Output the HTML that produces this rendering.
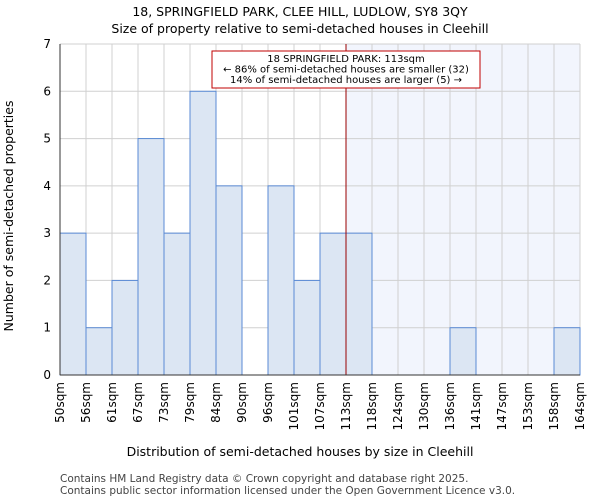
<!DOCTYPE html>
<html><head><meta charset="utf-8"><style>
body{margin:0;background:#fff;font-family:"DejaVu Sans","Liberation Sans",sans-serif}
svg text{font-family:"DejaVu Sans","Liberation Sans",sans-serif}
</style></head><body>
<svg id="c" width="600" height="500" viewBox="0 0 600 500">
<text x="300" y="16" text-anchor="middle" font-size="12.5">18, SPRINGFIELD PARK, CLEE HILL, LUDLOW, SY8 3QY</text>
<text x="300" y="33" text-anchor="middle" font-size="12.5">Size of property relative to semi-detached houses in Cleehill</text>
<text x="300" y="456" text-anchor="middle" font-size="12.5">Distribution of semi-detached houses by size in Cleehill</text>
<text transform="translate(13,216) rotate(-90)" text-anchor="middle" font-size="12.5">Number of semi-detached properties</text>
<text x="60" y="482" font-size="10.5" fill="#444">Contains HM Land Registry data © Crown copyright and database right 2025.</text>
<text x="60" y="494" font-size="10.5" fill="#444">Contains public sector information licensed under the Open Government Licence v3.0.</text>
<g id="plot"></g>
</svg>
<script>
const categories=["50sqm","56sqm","61sqm","67sqm","73sqm","79sqm","84sqm","90sqm","96sqm","101sqm","107sqm","113sqm","118sqm","124sqm","130sqm","136sqm","141sqm","147sqm","153sqm","158sqm","164sqm"];
const counts=[3,1,2,5,3,6,4,0,4,2,3,3,0,0,0,1,0,0,0,1];
const yTicks=[0,1,2,3,4,5,6,7];
const markerIndex=11;
const ns="http://www.w3.org/2000/svg";
const g=document.getElementById("plot");
const L=60,R=580,T=44,B=375,yMax=7;
const bw=(R-L)/counts.length;
const xs=i=>L+i*bw;
const ys=v=>B-(v/yMax)*(B-T);
function mk(t,a){const e=document.createElementNS(ns,t);for(const k in a)e.setAttribute(k,a[k]);g.appendChild(e);return e;}
let e=mk("rect",{x:xs(markerIndex),y:T,width:R-xs(markerIndex),height:B-T,fill:"#f2f5fd"});


for(let i=0;i<=counts.length;i++){e=mk("line",{x1:xs(i),x2:xs(i),y1:T,y2:B,stroke:"#d0d0d0","stroke-width":1});

}
yTicks.forEach(v=>{e=mk("line",{x1:L,x2:R,y1:ys(v),y2:ys(v),stroke:"#d0d0d0","stroke-width":1});


const t=mk("text",{x:L-9,y:ys(v)+4,"text-anchor":"end","font-size":12});t.textContent=v;

});
counts.forEach((c,i)=>{if(c<=0)return;const r=mk("rect",{x:xs(i),y:ys(c),width:bw,height:B-ys(c),fill:"#dce6f3",stroke:"#5a8ad4","stroke-width":1});

});
categories.forEach((c,i)=>{const x=xs(i)+4;const t=mk("text",{transform:`translate(${x},${B+7}) rotate(-90)`,"text-anchor":"end","font-size":12});t.textContent=c;

});
e=mk("line",{x1:xs(markerIndex),x2:xs(markerIndex),y1:T,y2:B,stroke:"#990000","stroke-width":1});


e=mk("rect",{x:212,y:51,width:268,height:37,fill:"#fff",stroke:"#c00000","stroke-width":1});


["18 SPRINGFIELD PARK: 113sqm","← 86% of semi-detached houses are smaller (32)","14% of semi-detached houses are larger (5) →"].forEach((s,k)=>{const t=mk("text",{x:346,y:62+k*10.5,"text-anchor":"middle","font-size":10});t.textContent=s;

});
e=mk("line",{x1:L,x2:L,y1:T,y2:B,stroke:"#333"});


e=mk("line",{x1:L,x2:R,y1:B,y2:B,stroke:"#333"});


</script>
</body></html>
